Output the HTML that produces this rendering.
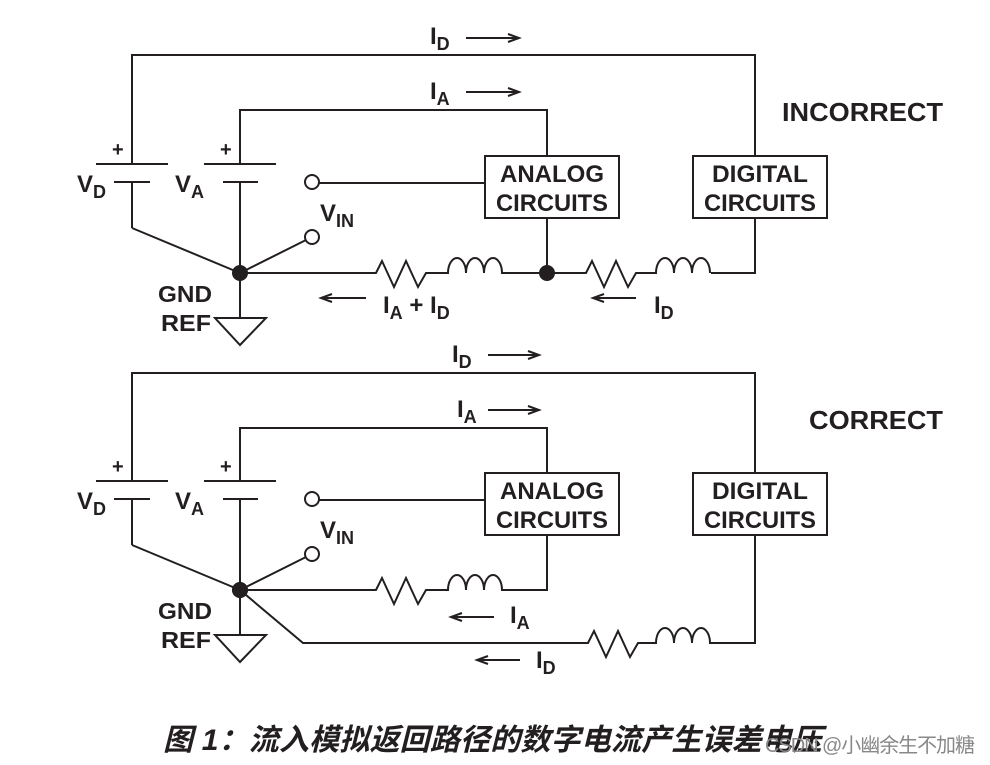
<!DOCTYPE html>
<html><head><meta charset="utf-8"><style>
html,body{margin:0;padding:0;background:#fff;}
svg{display:block;}
text{font-family:"Liberation Sans",Arial,sans-serif;font-weight:bold;fill:#231f20;}
</style></head><body>
<svg width="990" height="765" viewBox="0 0 990 765" xmlns="http://www.w3.org/2000/svg">
<defs>
<g id="left" stroke="#231f20" stroke-width="2" fill="none">
  <line x1="96" y1="164" x2="168" y2="164"/>
  <line x1="114" y1="182" x2="150" y2="182"/>
  <line x1="132" y1="182" x2="132" y2="228"/>
  <line x1="132" y1="228" x2="240" y2="273"/>
  <line x1="204" y1="164" x2="276" y2="164"/>
  <line x1="223" y1="182" x2="258" y2="182"/>
  <line x1="240" y1="182" x2="240" y2="318"/>
  <circle cx="312" cy="182" r="7" fill="#fff"/>
  <circle cx="312" cy="237" r="7" fill="#fff"/>
  <line x1="240" y1="273" x2="306" y2="240"/>
  <polygon points="215,318 266,318 240,345" fill="#fff"/>
  <circle cx="240" cy="273" r="8" fill="#231f20" stroke="none"/>
</g>
<g id="lefttext">
  <text x="112" y="156" font-size="20">+</text>
  <text x="220" y="156" font-size="20">+</text>
  <text x="77" y="192" font-size="24">V<tspan font-size="18" dy="6">D</tspan></text>
  <text x="175" y="192" font-size="24">V<tspan font-size="18" dy="6">A</tspan></text>
  <text x="320" y="221" font-size="24">V<tspan font-size="18" dy="6">IN</tspan></text>
  <text x="158" y="302" font-size="23" textLength="54" lengthAdjust="spacingAndGlyphs">GND</text>
  <text x="161" y="331" font-size="23" textLength="50" lengthAdjust="spacingAndGlyphs">REF</text>
  <g stroke="#231f20" stroke-width="2" fill="#fff">
    <rect x="485" y="156" width="134" height="62"/>
    <rect x="693" y="156" width="134" height="62"/>
  </g>
  <text x="552" y="182" font-size="24" text-anchor="middle" textLength="104" lengthAdjust="spacingAndGlyphs">ANALOG</text>
  <text x="552" y="211" font-size="24" text-anchor="middle" textLength="112" lengthAdjust="spacingAndGlyphs">CIRCUITS</text>
  <text x="760" y="182" font-size="24" text-anchor="middle" textLength="96" lengthAdjust="spacingAndGlyphs">DIGITAL</text>
  <text x="760" y="211" font-size="24" text-anchor="middle" textLength="112" lengthAdjust="spacingAndGlyphs">CIRCUITS</text>
</g>
</defs>

<g stroke="#231f20" stroke-width="2" fill="none">
  <polyline points="132,164 132,55 755,55 755,156"/>
  <polyline points="240,164 240,110 547,110 547,156"/>
  <line x1="319" y1="183" x2="485" y2="183"/>
  <line x1="547" y1="218" x2="547" y2="273"/>
  <polyline points="755,218 755,273 711,273"/>
  <path d="M240,273 L376,273 L382,261 L394,287 L406,261 L418,287 L426,273 L448,273 a9,15 0 0 1 18,0 a9,15 0 0 1 18,0 a9,15 0 0 1 18,0 L586,273 L592,261 L604,287 L616,261 L628,287 L636,273 L656,273 a9,15 0 0 1 18,0 a9,15 0 0 1 18,0 a9,15 0 0 1 18,0"/>
  <line x1="466" y1="38" x2="518" y2="38"/><polyline points="508,34 519,38 508,42"/>
  <line x1="466" y1="92" x2="518" y2="92"/><polyline points="508,88 519,92 508,96"/>
  <line x1="322" y1="298" x2="366" y2="298"/><polyline points="332,294 321,298 332,302"/>
  <line x1="594" y1="298" x2="636" y2="298"/><polyline points="604,294 593,298 604,302"/>
</g>
<circle cx="547" cy="273" r="8" fill="#231f20"/>
<use href="#left"/>
<use href="#lefttext"/>
<text x="430" y="44" font-size="24">I<tspan font-size="18" dy="6">D</tspan></text>
<text x="430" y="99" font-size="24">I<tspan font-size="18" dy="6">A</tspan></text>
<text x="383" y="313" font-size="24">I<tspan font-size="18" dy="6">A</tspan><tspan dy="-6"> + I</tspan><tspan font-size="18" dy="6">D</tspan></text>
<text x="654" y="313" font-size="24">I<tspan font-size="18" dy="6">D</tspan></text>
<text x="782" y="121" font-size="26" textLength="161" lengthAdjust="spacingAndGlyphs">INCORRECT</text>

<g transform="translate(0,317)">
  <use href="#left"/>
  <use href="#lefttext"/>
  <g stroke="#231f20" stroke-width="2" fill="none">
    <polyline points="132,164 132,56 755,56 755,156"/>
    <polyline points="240,164 240,111 547,111 547,156"/>
    <line x1="319" y1="183" x2="485" y2="183"/>
    <path d="M240,273 L376,273 L382,261 L394,287 L406,261 L418,287 L426,273 L448,273 a9,15 0 0 1 18,0 a9,15 0 0 1 18,0 a9,15 0 0 1 18,0 L547,273 L547,218"/>
    <path d="M240,273 L303,326 L588,326 L594,314 L606,340 L618,314 L630,340 L638,326 L656,326 a9,15 0 0 1 18,0 a9,15 0 0 1 18,0 a9,15 0 0 1 18,0 L755,326 L755,218"/>
    <line x1="488" y1="38" x2="538" y2="38"/><polyline points="528,34 539,38 528,42"/>
    <line x1="488" y1="93" x2="538" y2="93"/><polyline points="528,89 539,93 528,97"/>
    <line x1="452" y1="300" x2="494" y2="300"/><polyline points="462,296 451,300 462,304"/>
    <line x1="478" y1="343" x2="520" y2="343"/><polyline points="488,339 477,343 488,347"/>
  </g>
  <circle cx="240" cy="273" r="8" fill="#231f20"/>
  <text x="452" y="45" font-size="24">I<tspan font-size="18" dy="6">D</tspan></text>
  <text x="457" y="100" font-size="24">I<tspan font-size="18" dy="6">A</tspan></text>
  <text x="510" y="306" font-size="24">I<tspan font-size="18" dy="6">A</tspan></text>
  <text x="536" y="351" font-size="24">I<tspan font-size="18" dy="6">D</tspan></text>
  <text x="809" y="112" font-size="26" textLength="134" lengthAdjust="spacingAndGlyphs">CORRECT</text>
</g>

<text x="163" y="750" font-size="30" font-style="italic" textLength="659" style="font-family:'Liberation Sans','Noto Sans CJK SC',sans-serif;font-weight:bold;">图 1：流入模拟返回路径的数字电流产生误差电压</text>
<text x="765" y="752" font-size="20" textLength="210" style="font-family:'Liberation Sans','Noto Sans CJK SC',sans-serif;font-weight:normal;fill:#888;">CSDN @小幽余生不加糖</text>
</svg>
</body></html>
